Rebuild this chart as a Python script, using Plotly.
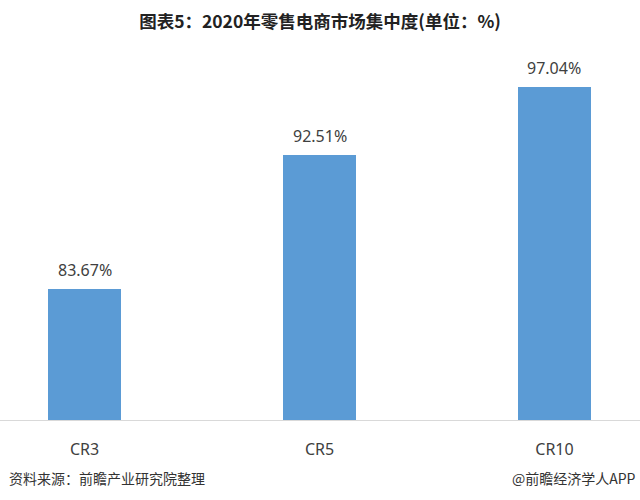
import plotly.graph_objects as go

categories = ["CR3", "CR5", "CR10"]
values = [83.67, 92.51, 97.04]
labels = ["83.67%", "92.51%", "97.04%"]

fig = go.Figure()
fig.add_trace(go.Bar(
    x=list(range(len(categories))), y=values,
    width=0.31,
    marker=dict(color="#5b9bd5", line=dict(width=0)),
    hoverinfo="skip",
))

for i, (v, t) in enumerate(zip(values, labels)):
    fig.add_annotation(x=i, y=v, text=t, showarrow=False, yanchor="middle",
                       yshift=19,
                       font=dict(family="Noto Sans, Open Sans, sans-serif", size=16, color="#404040"))

fig.update_layout(
    width=640, height=500,
    margin=dict(l=0, r=0, t=42, b=80),
    paper_bgcolor="white", plot_bgcolor="white",
    showlegend=False,
    title=dict(text="<b>图表5：2020年零售电商市场集中度(单位：%)</b>",
               x=0.5, xanchor="center", y=1-22/500, yanchor="middle",
               font=dict(family="Noto Sans CJK SC", size=17.5, color="#222222")),
    xaxis=dict(range=[-0.36, 2.364], tickmode="array",
               tickvals=list(range(len(categories))), ticktext=categories,
               showline=True, linecolor="#d9d9d9", linewidth=1,
               showgrid=False, zeroline=False, ticks="",
               ticklabelstandoff=15,
               tickfont=dict(family="Noto Sans, Open Sans, sans-serif", size=16, color="#404040")),
    yaxis=dict(range=[75, 100], visible=False, showgrid=False),
    bargap=0,
)

fig.add_annotation(text="资料来源：前瞻产业研究院整理", xref="paper", yref="paper",
                   x=0, xanchor="left", y=-(478-420)/378, yanchor="middle",
                   xshift=7, showarrow=False,
                   font=dict(family="Noto Sans CJK SC", size=14, color="#333333"))
fig.add_annotation(text="@前瞻经济学人APP", xref="paper", yref="paper",
                   x=1, xanchor="right", y=-(478-420)/378, yanchor="middle",
                   xshift=-2, showarrow=False,
                   font=dict(family="Noto Sans CJK SC", size=14, color="#333333"))

fig.write_html("out.html", config={"displayModeBar": False},
               post_script="document.body.style.margin='0';")
